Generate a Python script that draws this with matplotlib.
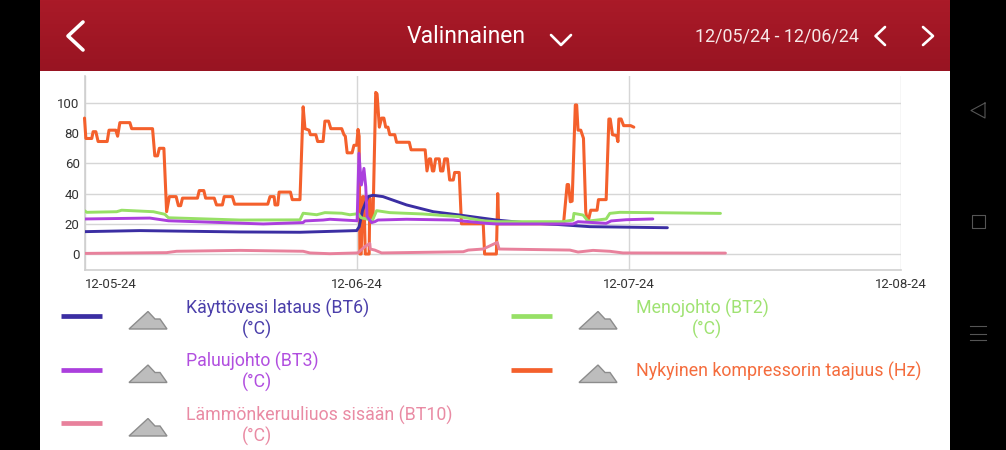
import numpy as np
import matplotlib
matplotlib.use("Agg")
import matplotlib.pyplot as plt
from matplotlib.patches import Polygon, Rectangle

plt.rcParams['font.family'] = ['Roboto', 'DejaVu Sans']

# x = minutes from the first tick (tick labels read 12-05-24 ...)
tick_minutes = [0, 60, 120, 180]
tick_labels = ['12-05-24', '12-06-24', '12-07-24', '12-08-24']
y_ticks = [0, 20, 40, 60, 80, 100]

orange_t = [0, .3, 1.6, 1.9, 2.5, 3.0, 5.0, 5.4, 6.9, 7.3, 7.8, 10.0, 10.4, 15.0, 15.5, 16.1, 16.5, 17.5, 18.1, 18.7,
            20.2, 20.7, 21.2, 21.6, 24.9, 25.3, 26.3, 26.7, 28.6, 29.1, 30.4, 30.8, 32.6, 33.1, 40.4, 40.9, 41.8, 42.0,
            42.6, 42.9, 45.4, 45.8, 47.5, 48.2, 48.6, 49.5, 49.8, 51.0, 51.4, 52.6, 53.0, 53.8, 54.3, 56.7, 57.2, 57.5,
            57.9, 59.0, 59.4, 60.0, 60.3, 60.55, 60.7, 61.0, 61.3, 61.6, 61.9, 62.75, 62.9, 63.0, 63.6, 64.2, 64.5,
            65.0, 65.5, 66.0, 66.4, 66.9, 67.3, 68.4, 68.8, 71.6, 72.0, 75.1, 75.5, 76.0, 76.3, 76.7, 77.0, 77.4, 78.2,
            78.5, 79.0, 79.4, 80.0, 80.5, 81.3, 81.6, 82.6, 83.1, 87.9, 88.2, 90.8, 91.1, 91.3, 105.6, 106.4, 106.7,
            107.1, 107.5, 108.2, 108.5, 108.8, 109.4, 110.0, 110.5, 110.8, 111.1, 111.6, 113, 113.3, 115, 115.6, 115.9,
            116.4, 117.3, 117.6, 117.8, 118.3, 118.85, 120.4, 121.1]
orange_v = [90, 76.5, 76.5, 81, 81, 74.5, 74.5, 82, 82, 78, 87, 87, 83, 83, 65, 65, 70, 70, 28, 38,
            38, 32, 32, 37, 37, 42, 42, 37, 37, 32.5, 32.5, 38, 38, 33, 33, 38, 38, 32.5,
            32.5, 41, 41, 36, 36, 97.5, 83, 82, 79, 79, 74.5, 74.5, 88, 88, 83, 83, 79, 78,
            67, 67, 72, 72, 82.5, 78, 0, 0, 38, 38, 0, 0, 37, 24, 24, 107, 106,
            84, 90, 90, 84, 84, 79, 79, 74, 74, 69, 69, 55, 63, 63, 55, 55, 63, 63,
            55, 55, 63, 63, 49, 49, 54, 54, 20, 20, 0, 0, 40, 20, 20, 46, 46,
            34.6, 35, 98.7, 98.7, 82, 82, 76.6, 28, 22.5, 22.5, 29, 29, 36, 36, 89.4, 89.4,
            79, 78.4, 74.4, 89.4, 89.4, 85, 85, 84]

pink_t = [0, 18.1, 20.3, 34.3, 48.2, 49.7, 54.1, 60, 60.3, 61.8, 62.9, 63, 64, 65.5, 83.5, 84.6, 87.9, 91, 91.4,
          107, 108.8, 112.1, 115.8, 118.7, 141.3]
pink_v = [.4, .9, 1.8, 2.4, 1.8, .7, .2, .7, .7, 4.9, 7, 3.3, 2.6, .7, 1.5, 2.6, 3.3, 7.7, 3.3,
          2.6, 1.3, 2.4, 1.8, .7, .6]

blue_t = [0, 12.2, 34.3, 47.5, 60, 60.55, 61.3, 62.5, 63.6, 65.8, 71, 76.9, 82.7, 90.8, 96.7, 104, 111.4, 128.5]
blue_v = [14.8, 15.5, 14.6, 14.4, 15.5, 18, 29, 38, 38.9, 38, 32.5, 28, 25.8, 22.5, 20.8, 19.6, 18.1, 17.4]

green_t = [0, .5, 7.1, 8.2, 15.2, 17.7, 18.5, 34.3, 47.5, 48.2, 51.2, 53, 56.7, 58.5, 60.3, 61, 62.5, 63.4, 64.4,
           67.3, 74.6, 82.7, 87.9, 90.8, 105.5, 107.7, 107.9, 109.9, 111, 115, 115.8, 118, 140.2]
green_v = [28.7, 27.6, 28, 29, 28, 26.3, 24, 22.5, 22.6, 27, 26, 27.4, 27, 26, 26.7, 24, 23, 21.8, 28.7,
           27.4, 26.5, 24.7, 22, 21.4, 21.4, 22.5, 26.9, 25.8, 21.8, 23.2, 26.9, 27.6, 26.9]

purple_t = [0, 14.4, 18.5, 39.4, 48.2, 48.6, 52.6, 54.1, 60.1, 60.5, 61.05, 61.6, 62, 62.3, 63.3, 64, 64.7, 71, 81.3,
            88.6, 90.8, 107.7, 108.8, 115, 116.1, 119.4, 125.3]
purple_v = [23.2, 23.8, 22, 19.9, 20.8, 21.9, 22.5, 23, 22, 66.7, 45.7, 56.7, 44.6, 24.7, 20.8, 21.4, 22.5, 23, 22.5,
            20.3, 19.9, 19.9, 21.4, 20.3, 21.9, 22.7, 23.2]

BLUE, PURPLE, PINK, GREEN, ORANGE = '#3b2ea3', '#ab3fdd', '#e8819c', '#97e066', '#f4602c'

legend_labels = ['Käyttövesi lataus (BT6)', 'Paluujohto (BT3)', 'Lämmönkeruuliuos sisään (BT10)',
                 'Menojohto (BT2)', 'Nykyinen kompressorin taajuus (Hz)']
legend_unit = '(°C)'

W, H = 1006, 450
fig = plt.figure(figsize=(W / 100, H / 100), dpi=100, facecolor='black')

# chrome in pixel coordinates
bg = fig.add_axes([0, 0, 1, 1], zorder=0)
bg.set_xlim(0, W); bg.set_ylim(H, 0); bg.axis('off')
bg.add_patch(Rectangle((40, 71), 910, 379, color='white', lw=0))
grad = np.linspace(0, 1, 71)[:, None]
c0, c1 = np.array([170, 26, 40]) / 255, np.array([152, 20, 34]) / 255
img = (c0[None, None, :] * (1 - grad[..., None]) + c1[None, None, :] * grad[..., None])
bg.imshow(img, extent=(40, 950, 71, 0), aspect='auto', zorder=1)
bg.set_xlim(0, W); bg.set_ylim(H, 0)


def chev(pts, lw):
    bg.plot(*zip(*pts), color='white', lw=lw, solid_capstyle='round', solid_joinstyle='round', zorder=3)


chev([(83, 22), (68, 36), (83, 50)], 2.6)
chev([(551, 35), (561, 45), (571, 35)], 1.9)
chev([(885, 27), (875.5, 36), (885, 45)], 1.9)
chev([(923, 27), (933, 36), (923, 45)], 1.9)
bg.text(466.5, 36.5, 'Valinnainen', color='white', fontsize=16.5, ha='center', va='center', zorder=3)
bg.text(776.5, 36.5, '12/05/24 - 12/06/24', color='#f7e8e8', fontsize=12.9, ha='center', va='center', zorder=3)
# nav bar glyphs
bg.plot([985, 971, 985, 985], [103, 110.5, 118, 103], color='#555555', lw=0.8)
bg.add_patch(Rectangle((972, 215), 13, 13, fill=False, ec='#555555', lw=0.8, joinstyle='round'))
for yy in (326, 333.5, 340):
    bg.plot([970, 986], [yy, yy], color='#555555', lw=0.8)

FS = 12.8


def legend_row(x0, yc, color, label, tx, ha='left', unit_x=None):
    bg.plot([x0, x0 + 41], [yc, yc], color=color, lw=3.4, solid_capstyle='butt')
    ix = x0 + 68
    icon = [(ix, yc + 13), (ix + 19, yc - 4.5), (ix + 26, yc + 3), (ix + 31, yc + 3), (ix + 38, yc + 13)]
    bg.add_patch(Polygon(icon, closed=True, fc='#bdbdbd', ec='#8c8c8c', lw=1))
    if unit_x is not None:
        bg.text(tx, yc - 8, label, color=color, fontsize=FS, ha=ha, va='center', alpha=.92)
        bg.text(unit_x, yc + 13, legend_unit, color=color, fontsize=FS, ha='center', va='center', alpha=.92)
    else:
        bg.text(tx, yc + 2, label, color=color, fontsize=FS, ha=ha, va='center', alpha=.92)


legend_row(61, 316, BLUE, legend_labels[0], 186, unit_x=257)
legend_row(61, 369.5, PURPLE, legend_labels[1], 186, unit_x=257)
legend_row(61, 423, PINK, legend_labels[2], 186, unit_x=257)
legend_row(511, 316, GREEN, legend_labels[3], 636, unit_x=707.5)
legend_row(511, 369.5, ORANGE, legend_labels[4], 636)

# chart
L, R, T, B = 84.5, 901, 76, 270
ax = fig.add_axes([L / W, 1 - B / H, (R - L) / W, (B - T) / H], zorder=2)
ax.patch.set_alpha(0)
ax.set_xlim(0, 180)
ax.set_ylim((254 - 270) / 1.51, (254 - 76) / 1.51)
ax.set_yticks(y_ticks)
ax.set_xticks(tick_minutes)
ax.set_xticklabels(tick_labels)
ax.tick_params(length=0, labelsize=9.5, labelcolor='#333333', pad=6)
ax.tick_params(axis='y', pad=3.5)
ax.grid(True, color='#d6d6d6', lw=1)
ax.set_axisbelow(True)
for s in ('top', 'right'):
    ax.spines[s].set_visible(False)
for s in ('left', 'bottom'):
    ax.spines[s].set_color('#cfcfcf')
    ax.spines[s].set_linewidth(1.2)
ax.get_xticklabels()[0].set_ha('left')

lw = 2.1
kw = dict(solid_joinstyle='round', solid_capstyle='round')
ax.plot(orange_t, orange_v, color=ORANGE, lw=lw + .1, zorder=3, clip_on=False, **kw)
ax.plot(pink_t, pink_v, color=PINK, lw=lw, zorder=4, **kw)
ax.plot(blue_t, blue_v, color=BLUE, lw=lw, zorder=5, **kw)
ax.plot(green_t, green_v, color=GREEN, lw=lw, zorder=6, **kw)
ax.plot(purple_t, purple_v, color=PURPLE, lw=lw, zorder=7, **kw)

fig.savefig('out.png', dpi=100, facecolor='black')
